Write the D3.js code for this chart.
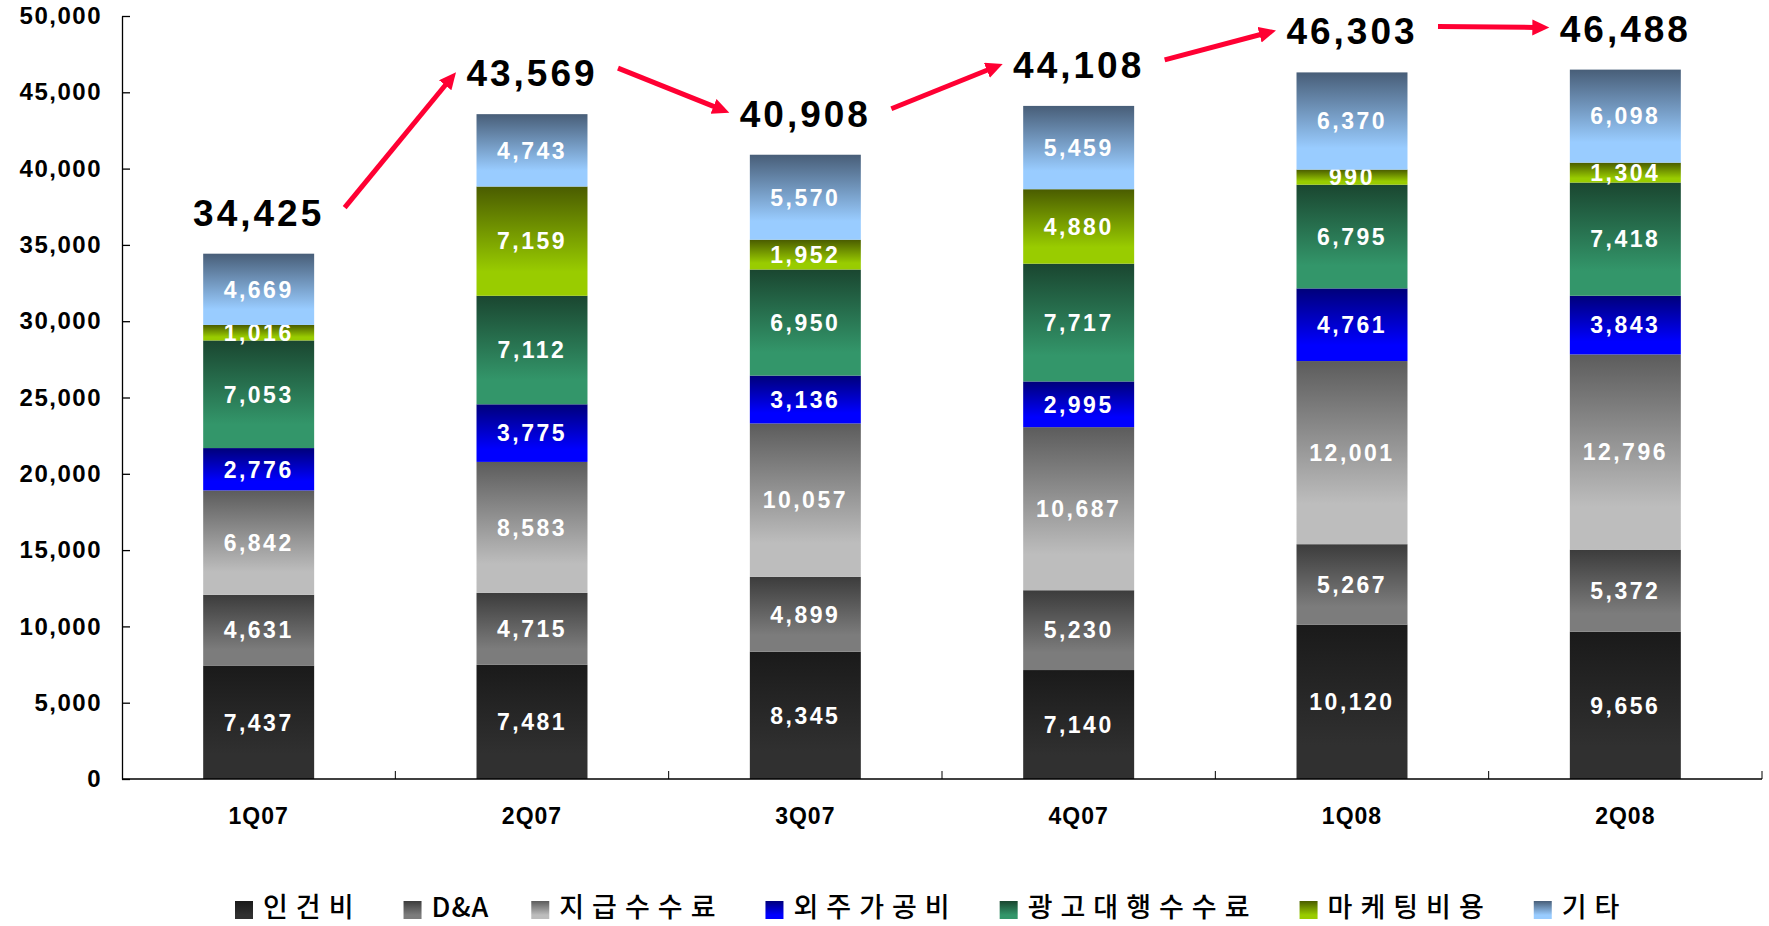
<!DOCTYPE html>
<html lang="ko">
<head>
<meta charset="UTF-8">
<title>분기별 비용 구성</title>
<script src="https://d3js.org/d3.v7.min.js"></script>
<style>
  body { margin: 0; background: #fff; }
  .y-axis text { font: bold 24px "Liberation Sans", Arial, sans-serif; letter-spacing: 1.5px; fill: #000; }
  .x-label { font: bold 23px "Liberation Sans", Arial, sans-serif; letter-spacing: 1px; fill: #000; }
  .seg-label { font: bold 23px "Liberation Sans", Arial, sans-serif; letter-spacing: 2.5px; fill: #fff; }
  .total-label { font: bold 37px "Liberation Sans", Arial, sans-serif; letter-spacing: 3px; fill: #000; }
  .legend text { font: 500 27px "Noto Sans CJK KR", sans-serif; fill: #000; }
</style>
</head>
<body>

<svg id="chart" width="1769" height="926"></svg>

<script>
  const quarters = ['1Q07', '2Q07', '3Q07', '4Q07', '1Q08', '2Q08'];
  const seriesNames = ['인건비', 'D&A', '지급수수료', '외주가공비', '광고대행수수료', '마케팅비용', '기타'];

  const labour      = [7437, 7481, 8345, 7140, 10120, 9656];
  const dna         = [4631, 4715, 4899, 5230, 5267, 5372];
  const fees        = [6842, 8583, 10057, 10687, 12001, 12796];
  const outsourcing = [2776, 3775, 3136, 2995, 4761, 3843];
  const agency      = [7053, 7112, 6950, 7717, 6795, 7418];
  const marketing   = [1016, 7159, 1952, 4880, 990, 1304];
  const other       = [4669, 4743, 5570, 5459, 6370, 6098];
  const totals      = [34425, 43569, 40908, 44108, 46303, 46488];

  const yTicks = [0, 5000, 10000, 15000, 20000, 25000, 30000, 35000, 40000, 45000, 50000];

  // gradient pairs: top (dark) -> bottom (light)
  const shades = [
    ['#1a1a1a', '#303030'],
    ['#3c3c3c', '#7c7c7c'],
    ['#5c5c5c', '#bdbdbd'],
    ['#00007a', '#0000ff'],
    ['#1a4630', '#33966a'],
    ['#4a5c00', '#99cc00'],
    ['#485e78', '#99ccff']
  ];
  const red = '#ff0033';

  const seriesValues = [labour, dna, fees, outsourcing, agency, marketing, other];
  const table = quarters.map((q, i) => {
    const row = { quarter: q };
    seriesNames.forEach((s, k) => row[s] = seriesValues[k][i]);
    return row;
  });
  const stacked = d3.stack().keys(seriesNames)(table);

  const svg = d3.select('#chart');
  const fmt = d3.format(',');

  const x = d3.scaleBand()
      .domain(quarters)
      .range([122, 1762])
      .paddingInner(0.594)
      .paddingOuter(0.297);
  const y = d3.scaleLinear()
      .domain([0, 50000])
      .range([779, 16]);

  // gradients
  const defs = svg.append('defs');
  shades.forEach((c, k) => {
    const g = defs.append('linearGradient')
        .attr('id', 'grad' + k)
        .attr('x1', 0).attr('y1', 0).attr('x2', 0).attr('y2', 1);
    g.append('stop').attr('offset', '0%').attr('stop-color', c[0]);
    g.append('stop').attr('offset', '78%').attr('stop-color', c[1]);
    g.append('stop').attr('offset', '100%').attr('stop-color', c[1]);
  });
  defs.append('marker')
      .attr('id', 'head')
      .attr('markerUnits', 'userSpaceOnUse')
      .attr('markerWidth', 20).attr('markerHeight', 20)
      .attr('refX', 2).attr('refY', 8)
      .attr('orient', 'auto')
    .append('path')
      .attr('d', 'M0,0L17,8L0,16Z')
      .attr('fill', red);

  // bars
  const layer = svg.selectAll('.layer')
    .data(stacked)
    .enter()
    .append('g')
    .attr('class', 'layer')
    .attr('fill', (d, k) => `url(#grad${k})`);

  layer.selectAll('rect')
    .data(d => d)
    .enter()
    .append('rect')
    .attr('x', d => x(d.data.quarter))
    .attr('y', d => y(d[1]))
    .attr('width', x.bandwidth())
    .attr('height', d => y(d[0]) - y(d[1]));

  layer.selectAll('text')
    .data(d => d)
    .enter()
    .append('text')
    .attr('class', 'seg-label')
    .attr('x', d => x(d.data.quarter) + x.bandwidth() / 2)
    .attr('y', d => (y(d[0]) + y(d[1])) / 2)
    .attr('dy', '0.36em')
    .attr('text-anchor', 'middle')
    .text(d => fmt(d[1] - d[0]));

  // axes
  svg.append('g')
    .attr('class', 'y-axis')
    .attr('transform', 'translate(122,0)')
    .call(d3.axisLeft(y).tickValues(yTicks).tickSizeInner(-8).tickSizeOuter(0).tickPadding(20).tickFormat(fmt))
    .call(g => g.selectAll('line, path').attr('stroke', '#000').attr('stroke-width', 1.3));

  const xAxis = svg.append('g');
  xAxis.append('line')
    .attr('x1', 122).attr('x2', 1762)
    .attr('y1', y(0)).attr('y2', y(0))
    .attr('stroke', '#000').attr('stroke-width', 1.3);
  xAxis.selectAll('.xtick')
    .data(quarters)
    .enter()
    .append('line')
    .attr('x1', d => x(d) + x.bandwidth() / 2 + x.step() / 2)
    .attr('x2', d => x(d) + x.bandwidth() / 2 + x.step() / 2)
    .attr('y1', y(0)).attr('y2', y(0) - 8)
    .attr('stroke', '#000').attr('stroke-width', 1);
  xAxis.selectAll('.x-label')
    .data(quarters)
    .enter()
    .append('text')
    .attr('class', 'x-label')
    .attr('x', d => x(d) + x.bandwidth() / 2)
    .attr('y', y(0) + 45)
    .attr('text-anchor', 'middle')
    .text(d => d);

  // totals + arrows
  const cx = i => x(quarters[i]) + x.bandwidth() / 2;
  const labelY = i => y(totals[i]) - 28;

  svg.selectAll('.total-label')
    .data(totals)
    .enter()
    .append('text')
    .attr('class', 'total-label')
    .attr('x', (d, i) => cx(i))
    .attr('y', (d, i) => labelY(i))
    .attr('text-anchor', 'middle')
    .text(d => fmt(d));

  svg.selectAll('.trend')
    .data(d3.range(totals.length - 1))
    .enter()
    .append('line')
    .attr('class', 'trend')
    .each(function(i) {
      const x1 = cx(i) + 86, y1 = labelY(i) - 18;
      const tx = cx(i + 1) - 76, ty = labelY(i + 1) - 14;
      const len = Math.hypot(tx - x1, ty - y1);
      const ux = (tx - x1) / len, uy = (ty - y1) / len;
      d3.select(this)
        .attr('x1', x1).attr('y1', y1)
        .attr('x2', tx - ux * 15).attr('y2', ty - uy * 15);
    })
    .attr('stroke', red)
    .attr('stroke-width', 5)
    .attr('marker-end', 'url(#head)');

  // legend
  const legend = svg.append('g').attr('class', 'legend');
  let lx = 235;
  seriesNames.forEach((name, k) => {
    legend.append('rect')
      .attr('x', lx).attr('y', 901)
      .attr('width', 18).attr('height', 18)
      .attr('fill', `url(#grad${k})`);
    const t = legend.append('text')
      .attr('x', lx + 28).attr('y', 917)
      .style('letter-spacing', /[가-힣]/.test(name) ? '8px' : '1px')
      .text(name);
    lx += 28 + t.node().getComputedTextLength() + 42;
  });
</script>

</body>
</html>
